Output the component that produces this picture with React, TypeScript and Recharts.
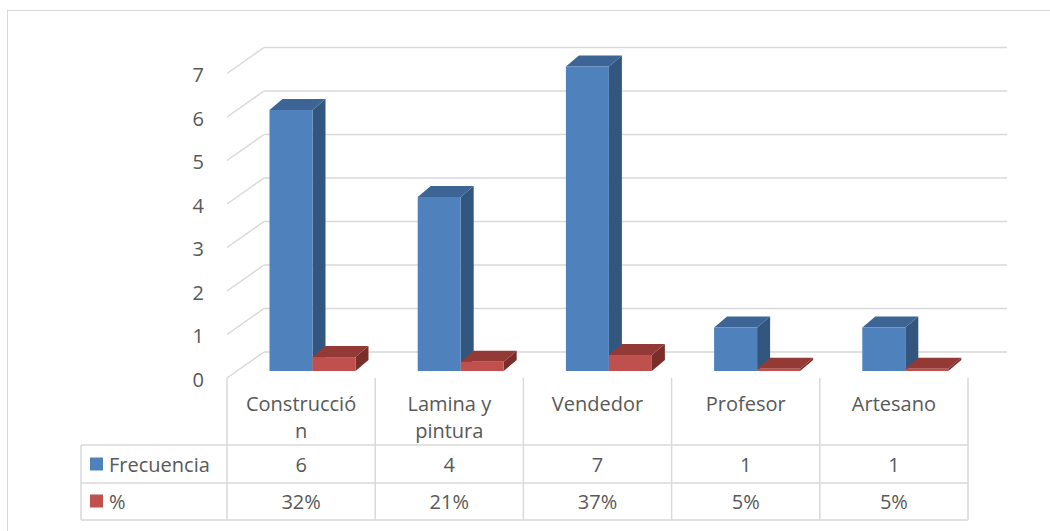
import React from 'react'
import { BarChart, Bar, XAxis, YAxis, CartesianGrid } from 'recharts'

const categories = ['Construcción', 'Lamina y pintura', 'Vendedor', 'Profesor', 'Artesano']
const categoryLines = [['Construcció', 'n'], ['Lamina y', 'pintura'], ['Vendedor'], ['Profesor'], ['Artesano']]
const frecuencia = [6, 4, 7, 1, 1]
const porcentaje = [0.32, 0.21, 0.37, 0.05, 0.05]
const yTicks = [0, 1, 2, 3, 4, 5, 6, 7]

const data = categories.map((cat, i) => ({
  cat,
  frecuencia: frecuencia[i],
  porcentaje: porcentaje[i],
}))

const FONT = '"Open Sans", sans-serif'
const TEXT = '#595959'
const LINE = '#d9d9d9'

// depth of the 3D box drawn for every bar
const DX = 13
const DY = 11

function box(front: string, side: string, top: string) {
  return (props: any) => {
    const { x, y, width, height } = props
    if (width == null || height == null) return null
    return (
      <g>
        <polygon
          points={`${x + width},${y} ${x + width + DX},${y - DY} ${x + width + DX},${y + height - DY} ${x + width},${y + height}`}
          fill={side}
        />
        <polygon
          points={`${x},${y} ${x + DX},${y - DY} ${x + width + DX},${y - DY} ${x + width},${y}`}
          fill={top}
        />
        <rect x={x} y={y} width={width} height={Math.max(height, 0)} fill={front} />
      </g>
    )
  }
}

// back wall line plus slanted side wall line for each tick
function gridLine(props: any) {
  const y = props.y1
  return (
    <g key={props.key ?? `g-${y}`}>
      <line x1={264} y1={y - 19} x2={1007} y2={y - 19} stroke={LINE} strokeWidth={1.5} />
      <line x1={227} y1={y + 7} x2={264} y2={y - 19} stroke={LINE} strokeWidth={1.5} />
    </g>
  )
}

function YTick(props: any) {
  const { y, payload } = props
  return (
    <text x={204} y={y + 8} textAnchor="end" dominantBaseline="central" fontFamily={FONT} fontSize={20} fill={TEXT}>
      {payload.value}
    </text>
  )
}

const colLeft = 227
const colW = 148.2

export default function App() {
  return (
    <div style={{ position: 'absolute', left: 0, top: 0, width: 1050, height: 531, background: '#fff' }}>
      <BarChart
        width={1050}
        height={531}
        data={data}
        margin={{ top: 66.5, right: 70.5, bottom: 160, left: 0 }}
        barGap={0}
        barSize={43}
      >
        <CartesianGrid vertical={false} horizontal={gridLine} />
        <XAxis dataKey="cat" hide />
        <YAxis
          width={238.5}
          domain={[0, 7]}
          ticks={yTicks}
          interval={0}
          axisLine={false}
          tickLine={false}
          tick={<YTick />}
        />
        <Bar dataKey="frecuencia" isAnimationActive={false} shape={box('#4f81bd', '#33567f', '#3c6595')} />
        <Bar dataKey="porcentaje" isAnimationActive={false} shape={box('#c0504d', '#7a2d2b', '#933a37')} />
      </BarChart>
      <svg width={1050} height={531} style={{ position: 'absolute', left: 0, top: 0, pointerEvents: 'none' }}>
        <rect x={7.5} y={10.5} width={1100} height={600} fill="none" stroke={LINE} strokeWidth={1} />
        <g stroke={LINE} strokeWidth={1.5}>
          {categories.concat(['']).map((_, i) => (
            <line key={`v${i}`} x1={colLeft + i * colW} y1={378} x2={colLeft + i * colW} y2={520} />
          ))}
          <line x1={81} y1={445} x2={81} y2={520} />
          <line x1={81} y1={445} x2={colLeft + 5 * colW} y2={445} />
          <line x1={81} y1={483} x2={colLeft + 5 * colW} y2={483} />
          <line x1={81} y1={520} x2={colLeft + 5 * colW} y2={520} />
        </g>
        <g fontFamily={FONT} fontSize={20} fill={TEXT} textAnchor="middle" dominantBaseline="central">
          {categoryLines.map((lines, i) =>
            lines.map((ln, j) => (
              <text key={`c${i}-${j}`} x={colLeft + colW * (i + 0.5)} y={403 + j * 27}>
                {ln}
              </text>
            ))
          )}
          {frecuencia.map((v, i) => (
            <text key={`f${i}`} x={colLeft + colW * (i + 0.5)} y={464}>
              {v}
            </text>
          ))}
          {porcentaje.map((v, i) => (
            <text key={`p${i}`} x={colLeft + colW * (i + 0.5)} y={501}>
              {`${Math.round(v * 100)}%`}
            </text>
          ))}
        </g>
        <rect x={90} y={457.5} width={13} height={13} fill="#4f81bd" />
        <rect x={90} y={494.5} width={13} height={13} fill="#c0504d" />
        <g fontFamily={FONT} fontSize={20} fill={TEXT} dominantBaseline="central">
          <text x={109} y={464}>Frecuencia</text>
          <text x={109} y={501}>%</text>
        </g>
      </svg>
    </div>
  )
}
